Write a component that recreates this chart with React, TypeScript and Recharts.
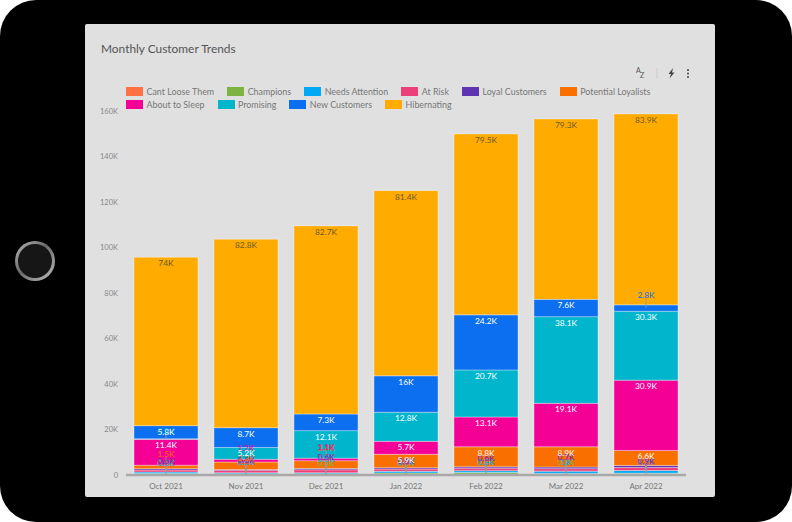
import React from "react";
import { BarChart, Bar, XAxis, YAxis, Legend, LabelList } from "recharts";

const months = ["Oct 2021", "Nov 2021", "Dec 2021", "Jan 2022", "Feb 2022", "Mar 2022", "Apr 2022"];
const yTicks = [0, 20, 40, 60, 80, 100, 120, 140, 160];

// values in thousands
const cantLooseThem = [0.2, 0.2, 0.2, 0.3, 0.4, 0.5, 0.6];
const champions = [0.5, 0.3, 0.3, 0.6, 0.7, 0.2, 0.2];
const needsAttention = [0.6, 0.5, 0.5, 0.7, 0.8, 1.0, 1.2];
const atRisk = [0.9, 1.1, 1.3, 1.0, 1.1, 1.1, 1.3];
const loyalCustomers = [0.6, 0.3, 0.6, 0.6, 0.6, 0.7, 0.9];
const potentialLoyalists = [1.5, 3.3, 3.4, 5.9, 8.8, 8.9, 6.6];
const aboutToSleep = [11.4, 1.2, 1.1, 5.7, 13.1, 19.1, 30.9];
const promising = [0.2, 5.2, 12.1, 12.8, 20.7, 38.1, 30.3];
const newCustomers = [5.8, 8.7, 7.3, 16, 24.2, 7.6, 2.8];
const hibernating = [74, 82.8, 82.7, 81.4, 79.5, 79.3, 83.9];

const seriesList = [
  { key: "Cant Loose Them", values: cantLooseThem, color: "#ff7043" },
  { key: "Champions", values: champions, color: "#7cb342" },
  { key: "Needs Attention", values: needsAttention, color: "#03a9f4" },
  { key: "At Risk", values: atRisk, color: "#ec407a" },
  { key: "Loyal Customers", values: loyalCustomers, color: "#5e35b1" },
  { key: "Potential Loyalists", values: potentialLoyalists, color: "#f96f00" },
  { key: "About to Sleep", values: aboutToSleep, color: "#f50097" },
  { key: "Promising", values: promising, color: "#00b5cc" },
  { key: "New Customers", values: newCustomers, color: "#0b6ff0" },
  { key: "Hibernating", values: hibernating, color: "#ffab00" },
];

// Labels of thin segments are lifted off their segment, with a leader line:
// height of the label above the axis in px, null = just inside the segment's top.
const labelRise: (number | null)[][] = [
  [11, 12, 12, 13, 14, 21, null, 44, null, null],
  [12, 13, 13, 14, 15, 17, 27, null, null, null],
  [12, 12, 16, 18, 18, 27, 28, null, null, null],
  [12, 12, 13, 13, 14, null, null, null, null, null],
  [13, 13, 13, 17, 17, null, null, null, null, null],
  [13, 13, 13, 18, 18, null, null, null, null, null],
  [13, 13, 13, 13, 14, null, null, null, 180, null],
];

const chartData = months.map((m, i) => {
  const row: Record<string, string | number> = { month: m };
  seriesList.forEach((s) => (row[s.key] = s.values[i]));
  return row;
});

const FONT = "Lato, 'Open Sans', sans-serif";

function MonthLabels(props: any) {
  const { x, y, width, height, index } = props;
  const unit = height / hibernating[index];
  const cx = x + width / 2;
  const base = y + height + seriesList.slice(0, -1).reduce((a, s) => a + s.values[index], 0) * unit;
  let cum = 0;
  const items = seriesList.map((s, si) => {
    const v = s.values[index];
    const segTop = base - (cum + v) * unit;
    const segMid = base - (cum + v / 2) * unit;
    cum += v;
    const rise = labelRise[index][si];
    const ly = rise == null ? segTop + 6 : base - rise;
    const fill = si === seriesList.length - 1 ? "#6b5a2a" : v < 4 ? s.color : "#ffffff";
    return { s, v, ly, segMid, rise, fill };
  });
  return (
    <g>
      {items.map((it) =>
        it.rise != null ? (
          <line key={"l" + it.s.key} x1={cx} x2={cx} y1={it.segMid} y2={it.ly + 3} stroke="#9a9a9a" strokeWidth={0.8} />
        ) : null
      )}
      {items.map((it) => (
        <text
          key={"t" + it.s.key}
          x={cx}
          y={it.ly}
          textAnchor="middle"
          dominantBaseline="central"
          fontSize={8.4}
          fontFamily={FONT}
          fill={it.fill}
        >
          {`${it.v}K`}
        </text>
      ))}
    </g>
  );
}

const legendRows = [seriesList.slice(0, 6), seriesList.slice(6)];

function LegendBlock() {
  return (
    <div style={{ fontFamily: FONT, fontSize: 8.9, color: "#777", lineHeight: "9px" }}>
      {legendRows.map((row, r) => (
        <div key={r} style={{ display: "flex", height: 12.5, alignItems: "flex-start" }}>
          {row.map((s) => (
            <div key={s.key} style={{ display: "flex", alignItems: "center", marginRight: 13 }}>
              <span
                style={{
                  display: "inline-block",
                  width: 17,
                  height: 9,
                  background: s.color,
                  marginRight: 3.5,
                }}
              />
              <span style={{ whiteSpace: "nowrap" }}>{s.key}</span>
            </div>
          ))}
        </div>
      ))}
    </div>
  );
}

function ToolIcons() {
  return (
    <svg width={70} height={16} style={{ position: "absolute", left: 630, top: 65 }}>
      <text x={6} y={8} fontSize={7} fontFamily={FONT} fill="#555">A</text>
      <text x={10} y={13} fontSize={7} fontFamily={FONT} fill="#555">Z</text>
      <line x1={27} x2={27} y1={3} y2={14} stroke="#ccc" />
      <path d="M43 3 L38.5 9 L41 9 L39.5 13.5 L44.5 7.5 L42 7.5 Z" fill="#444" />
      <circle cx={58} cy={5} r={1} fill="#444" />
      <circle cx={58} cy={8.5} r={1} fill="#444" />
      <circle cx={58} cy={12} r={1} fill="#444" />
    </svg>
  );
}

export default function App() {
  return (
    <div style={{ position: "fixed", left: 0, top: 0, width: 792, height: 522, background: "#fff", overflow: "hidden" }}>
      <div style={{ position: "absolute", left: 0, top: 0, width: 792, height: 522, background: "#000", borderRadius: 36 }} />
      <div
        style={{
          position: "absolute",
          left: 15,
          top: 241,
          width: 40,
          height: 40,
          borderRadius: "50%",
          background: "linear-gradient(135deg,#b8b8b8,#6a6a6a 45%,#c0c0c0)",
        }}
      />
      <div style={{ position: "absolute", left: 18, top: 244, width: 34, height: 34, borderRadius: "50%", background: "#161616" }} />
      <div style={{ position: "absolute", left: 85, top: 24, width: 630, height: 473, background: "#e0e0e0", borderRadius: 2 }} />
      <div style={{ position: "absolute", left: 101, top: 41, fontFamily: FONT, fontSize: 11.9, color: "#555", lineHeight: "15px" }}>
        Monthly Customer Trends
      </div>
      <ToolIcons />
      <div style={{ position: "absolute", left: 0, top: 0 }}>
        <BarChart
          width={792}
          height={522}
          data={chartData}
          margin={{ top: 111, right: 106, bottom: 22, left: 81 }}
          barCategoryGap={8}
        >
          <XAxis
            dataKey="month"
            height={25}
            tickLine={false}
            axisLine={{ stroke: "#a8a8a8", strokeWidth: 2.5 }}
            tick={{ fontSize: 8, fill: "#777", fontFamily: FONT }}
          />
          <YAxis
            width={45}
            domain={[0, 160]}
            ticks={yTicks}
            tickFormatter={(v: number) => (v === 0 ? "0" : `${v}K`)}
            axisLine={false}
            tickLine={false}
            tick={{ fontSize: 7.5, fill: "#888", fontFamily: FONT }}
          />
          <Legend
            verticalAlign="middle"
            align="center"
            content={() => <LegendBlock />}
            wrapperStyle={{ position: "absolute", left: 126, top: 87, width: 590 }}
          />
          {seriesList.map((s, i) => (
            <Bar
              key={s.key}
              dataKey={s.key}
              stackId="a"
              fill={s.color}
              stroke="#ffffff"
              strokeOpacity={0.35}
              strokeWidth={1}
              isAnimationActive={false}
            >
              {i === seriesList.length - 1 ? <LabelList content={(p: any) => <MonthLabels {...p} />} /> : null}
            </Bar>
          ))}
        </BarChart>
      </div>
    </div>
  );
}
